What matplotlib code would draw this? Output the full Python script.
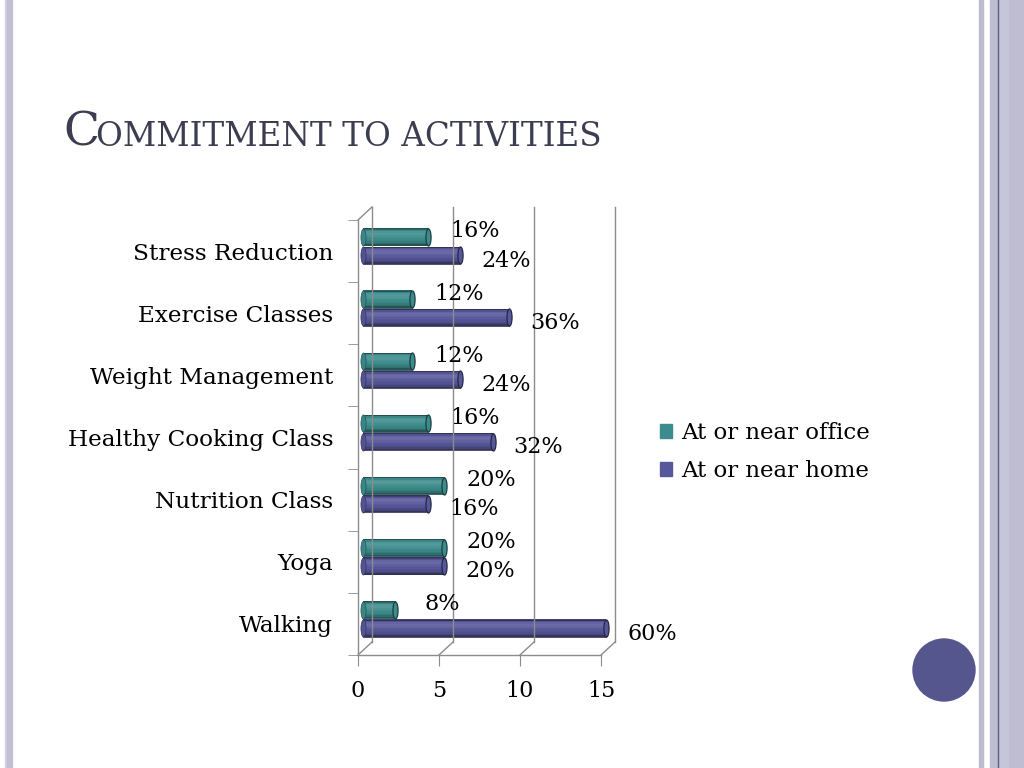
## Commitment to activities - horizontal 3D-style bar chart
import numpy as np
import matplotlib
matplotlib.use('Agg')
import matplotlib.pyplot as plt
import matplotlib.transforms as mtransforms
from matplotlib.path import Path
from matplotlib.patches import Rectangle, Circle

plt.rcParams['font.family'] = ['DejaVu Serif']

# data (counts out of 25 respondents, labels are the percentages)
categories = ['Walking', 'Yoga', 'Nutrition Class', 'Healthy Cooking Class',
              'Weight Management', 'Exercise Classes', 'Stress Reduction']
office = [2, 5, 5, 4, 3, 3, 4]
home = [15, 5, 4, 8, 6, 9, 6]
office_pct = ['8%', '20%', '20%', '16%', '12%', '12%', '16%']
home_pct = ['60%', '20%', '16%', '32%', '24%', '36%', '24%']
series_names = ['At or near office', 'At or near home']
xticks = [0, 5, 10, 15]

W, H = 1024, 768
fig = plt.figure(figsize=(W / 100, H / 100), dpi=100)
fig.patch.set_facecolor('white')

# slide decorations
deco = fig.add_axes([0, 0, 1, 1], zorder=-5)
deco.set_xlim(0, W)
deco.set_ylim(H, 0)
deco.axis('off')
deco.add_patch(Rectangle((5, 0), 2, H, color='#d2d1e0'))
deco.add_patch(Rectangle((7, 0), 5, H, color='#c0bfd4'))
deco.add_patch(Rectangle((979, 0), 4, H, color='#bcbbd0'))
deco.add_patch(Rectangle((990, 0), 34, H, color='#bebdd2'))
deco.add_patch(Rectangle((998, 0), 10, H, color='#c6c5d9'))
deco.plot([998, 998], [0, H], color='#5d5d86', lw=1)
deco.add_patch(Circle((944, 670), 31, color='#55568e'))

# title in small caps
title_color = '#3d3d52'
deco.text(63, 146, 'C', fontsize=34, color=title_color, va='baseline', ha='left')
deco.text(96, 146, 'OMMITMENT TO ACTIVITIES', fontsize=23.5, color=title_color,
          va='baseline', ha='left')

# chart axes = front plane of the 3D box
ax = fig.add_axes([358 / W, (H - 655) / H, 243 / W, 435 / H])
ax.set_xlim(0, 15)
ax.set_ylim(-0.5, 6.5)
ax.patch.set_alpha(0)
for s in ['top', 'right']:
    ax.spines[s].set_visible(False)
for s in ['left', 'bottom']:
    ax.spines[s].set_color('#8c8c8c')
    ax.spines[s].set_linewidth(1)

y = np.arange(len(categories))
ax.set_yticks(np.arange(-0.5, 7, 1), minor=True)
ax.set_yticks(y)
ax.set_yticklabels(categories, fontsize=16.7)
ax.tick_params(axis='y', which='major', length=0, pad=18)
ax.tick_params(axis='y', which='minor', length=7, color='#8c8c8c')
ax.set_xticks(xticks)
ax.set_xticklabels([str(t) for t in xticks], fontsize=16)
ax.tick_params(axis='x', length=8, color='#8c8c8c', pad=10)

# back wall / floor with depth offset
back = mtransforms.offset_copy(ax.transData, fig=fig, x=14, y=13, units='dots')
grid_c = '#8c8c8c'
for t in xticks:
    ax.plot([t, t], [-0.5, 6.5], color=grid_c, lw=1, transform=back, clip_on=False)
    # floor diagonal from front tick to back gridline
    p0 = ax.transData.transform((t, -0.5))
    p1 = back.transform((t, -0.5))
    fig.add_artist(plt.Line2D([p0[0] / W, p1[0] / W], [p0[1] / H, p1[1] / H],
                              color=grid_c, lw=1))
p0 = ax.transData.transform((0, 6.5))
p1 = back.transform((0, 6.5))
fig.add_artist(plt.Line2D([p0[0] / W, p1[0] / W], [p0[1] / H, p1[1] / H],
                          color=grid_c, lw=1))

# bars at mid depth, drawn as shaded strips to look like cylinders
mid = mtransforms.offset_copy(ax.transData, fig=fig, x=5, y=5, units='dots')
bh = 0.275
off = 0.147
shades = [0.75, 0.95, 1.08, 1.12, 1.1, 1.06, 1.02, 0.98, 0.94, 0.88, 0.78, 0.6]


def shade(rgb, f):
    rgb = np.array(matplotlib.colors.to_rgb(rgb))
    if f <= 1:
        return tuple(rgb * f)
    return tuple(rgb + (1 - rgb) * (f - 1))


cap = Path.unit_circle()
cap = Path(cap.vertices * [0.3, 1.0], cap.codes)


def draw_cylinders(vals, ypos, color):
    n = len(shades)
    sh = bh / n
    for k, f in enumerate(shades):
        yk = ypos + bh / 2 - sh * (k + 0.5)
        ax.barh(yk, vals, height=sh * 1.05, color=shade(color, f), lw=0,
                transform=mid, clip_on=False)
    ax.barh(ypos, vals, height=bh, facecolor='none', edgecolor=shade(color, 0.55),
            lw=0.6, transform=mid, clip_on=False)
    ax.scatter(vals, ypos, marker=cap, s=(bh * 62 * 0.72) ** 2,
               facecolor=shade(color, 1.0), edgecolor=shade(color, 0.45),
               lw=0.9, transform=mid, clip_on=False, zorder=3)
    ax.scatter(np.zeros(len(vals)), ypos, marker=cap, s=(bh * 62 * 0.72) ** 2,
               facecolor=shade(color, 0.95), edgecolor=shade(color, 0.6),
               lw=0.5, transform=mid, clip_on=False, zorder=1)


c_office = '#3d8c8d'
c_home = '#57579b'
draw_cylinders(office, y + off, c_office)
draw_cylinders(home, y - off, c_home)

# value labels
for i in range(len(categories)):
    ax.annotate(office_pct[i], (office[i], y[i] + off), xycoords=mid,
                xytext=(34, 4), textcoords='offset points', ha='center',
                va='center', fontsize=16, annotation_clip=False)
    ax.annotate(home_pct[i], (home[i], y[i] - off), xycoords=mid,
                xytext=(33, -4), textcoords='offset points', ha='center',
                va='center', fontsize=16, annotation_clip=False)

# legend
handles = [Rectangle((0, 0), 1, 1, color=c_office),
           Rectangle((0, 0), 1, 1, color=c_home)]
fig.legend(handles, series_names, loc='center left',
           bbox_to_anchor=(639 / W, 1 - 452 / H), frameon=False, fontsize=16.5,
           handlelength=0.55, handleheight=0.55, handletextpad=0.4,
           labelspacing=0.72)

fig.savefig('out.png', dpi=100, facecolor='white')
